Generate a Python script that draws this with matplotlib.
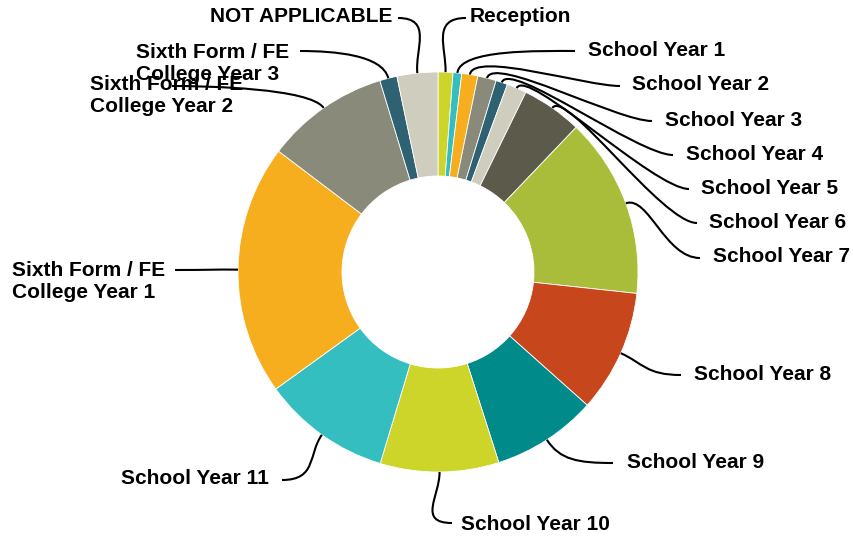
import numpy as np
import matplotlib.pyplot as plt
from matplotlib.path import Path
from matplotlib.patches import PathPatch

plt.rcParams['font.family'] = ['Liberation Sans', 'DejaVu Sans']

labels = ['Reception', 'School Year 1', 'School Year 2', 'School Year 3',
          'School Year 4', 'School Year 5', 'School Year 6', 'School Year 7',
          'School Year 8', 'School Year 9', 'School Year 10', 'School Year 11',
          'Sixth Form / FE\nCollege Year 1', 'Sixth Form / FE\nCollege Year 2',
          'Sixth Form / FE\nCollege Year 3', 'NOT APPLICABLE']
values = [1.2, 0.7, 1.3, 1.5, 0.95, 1.6, 4.9, 14.6, 9.9, 8.5, 9.6, 10.4,
          20.3, 10.0, 1.4, 3.3]
colors = ['#cdd42a', '#35bec0', '#f6ae1f', '#8a8a7a', '#2e6272', '#cfcdbe',
          '#5c5a4b', '#a9bd3a', '#c8461c', '#008a8a',
          '#cdd42a', '#35bec0', '#f6ae1f', '#8a8a7a', '#2e6272', '#cfcdbe']

# label anchor positions in pixels (x, y, side)
W, H = 854, 539
label_pos = [(470, 17, 'l'), (588, 50, 'l'), (632, 85, 'l'), (665, 120, 'l'),
             (686, 154, 'l'), (701, 188, 'l'), (709, 222, 'l'), (713, 257, 'l'),
             (694, 374, 'l'), (627, 463, 'l'), (461, 524, 'l'), (269, 479, 'r'),
             (165, 281, 'r'), (90, 96, 'L'), (136, 63, 'L'), (392, 17, 'r')]
# where the leader line ends next to each label
line_end = [(466, 18), (575, 51), (620, 86), (652, 121), (673, 155), (689, 189),
            (697, 223), (700, 258), (681, 375), (613, 463), (452, 523), (282, 480),
            (175, 270), (172, 86), (300, 51), (398, 18)]

cx, cy, R = 438, H - 272, 200

fig = plt.figure(figsize=(W / 100, H / 100), dpi=100)
ax = fig.add_axes([0, 0, 1, 1])

wedges, _ = ax.pie(values, colors=colors, startangle=90, counterclock=False,
                   center=(cx, cy), radius=R, frame=True,
                   wedgeprops=dict(width=R * 0.52, edgecolor='white', linewidth=0.6))
ax.set_xlim(0, W)
ax.set_ylim(0, H)
ax.axis('off')

for w, lab, (lx, ly, side), (ex, ey) in zip(wedges, labels, label_pos, line_end):
    ang = np.deg2rad((w.theta1 + w.theta2) / 2)
    p0 = (cx + R * np.cos(ang), cy + R * np.sin(ang))
    p1 = (cx + (R + 24) * np.cos(ang), cy + (R + 24) * np.sin(ang))
    ey = H - ey
    s = 1 if ex > p0[0] else -1
    p2 = (ex - s * 35, ey)
    path = Path([p0, p1, p2, (ex, ey)],
                [Path.MOVETO, Path.CURVE4, Path.CURVE4, Path.CURVE4])
    ax.add_patch(PathPatch(path, fill=False, color='black', lw=1.5))
    ha = 'left' if side in ('l', 'L') else 'right'
    ax.text(lx, H - ly, lab, ha=ha, va='center', fontsize=15,
            fontweight='bold', linespacing=1.2, multialignment='left')

fig.savefig('out.png', dpi=100)
